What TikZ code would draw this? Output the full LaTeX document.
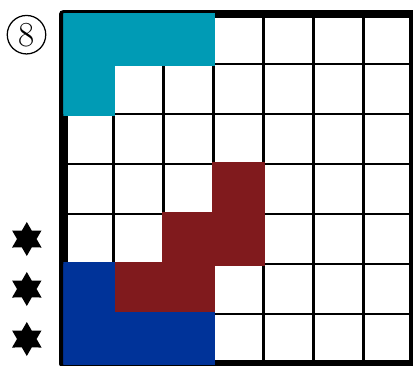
\documentclass[tikz,border=0pt]{standalone}
\usepackage{tikz}
\usetikzlibrary{calc}
\definecolor{tealc}{RGB}{0,155,181}
\definecolor{redc}{RGB}{128,26,29}
\definecolor{bluec}{RGB}{0,51,153}
\tikzset{
  gridline/.style={line width=0.055cm, black},
  borderline/.style={line width=0.17cm, black, line join=round},
  piece/.style={fill=#1, draw=#1, line width=0.07cm},
  hexstar/.style={fill=black},
  circlabel/.style={circle, draw, line width=0.025cm, minimum size=0.77cm, inner sep=0pt, font=\fontsize{20}{24}\selectfont}
}
\begin{document}
\begin{tikzpicture}
\useasboundingbox (-1.266,-0.02) rectangle (6.994,7.28);
% grid
\foreach \i in {1,...,6} {
  \draw[gridline] (\i,0) -- (\i,7);
  \draw[gridline] (0,\i) -- (7,\i);
}
\draw[borderline] (0,0) rectangle (7,7);
% pieces
\begin{scope}
\clip (0,0) rectangle (7,7);
\draw[piece=tealc] (0,7) -- (3,7) -- (3,6) -- (1,6) -- (1,5) -- (0,5) -- cycle;
\draw[piece=redc] (3,4) -- (4,4) -- (4,2) -- (3,2) -- (3,1) -- (1,1) -- (1,2) -- (2,2) -- (2,3) -- (3,3) -- cycle;
\draw[piece=bluec] (0,2) -- (1,2) -- (1,1) -- (3,1) -- (3,0) -- (0,0) -- cycle;
\end{scope}
% label
\node[circlabel] (lbl) at (-0.736,6.586) {8};
% stars
\foreach \yy in {2.5,1.5,0.5} {
  \begin{scope}[shift={(-0.73,\yy)}]
    \fill[hexstar] (90:0.34) -- (120:0.196) -- (150:0.34) -- (180:0.196) -- (210:0.34) -- (240:0.196)
      -- (270:0.34) -- (300:0.196) -- (330:0.34) -- (0:0.196) -- (30:0.34) -- (60:0.196) -- cycle;
  \end{scope}
}
\end{tikzpicture}
\end{document}
